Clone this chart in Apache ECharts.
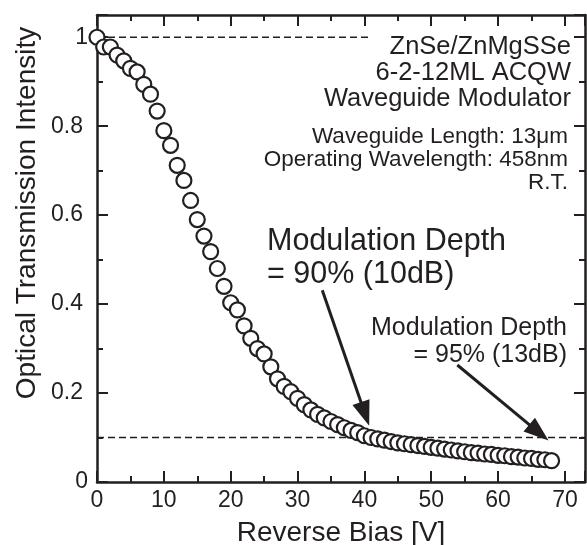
<!DOCTYPE html>
<html>
<head>
<meta charset="utf-8">
<script src="https://cdn.jsdelivr.net/npm/echarts@6/dist/echarts.min.js"></script>
<style>
html,body{margin:0;padding:0;background:#fff;}
#c{width:587px;height:545px;}
</style>
</head>
<body>
<div id="c"></div>
<script>
// Reverse bias [V]
const biasV = [0,1,2,3,4,5,6,7,8,9,10,11,12,13,14,15,16,17,18,19,20,21,22,23,24,25,26,27,28,29,30,31,32,33,34,35,36,37,38,39,40,41,42,43,44,45,46,47,48,49,50,51,52,53,54,55,56,57,58,59,60,61,62,63,64,65,66,67,68];
// Optical transmission intensity
const intensity = [1.000,0.978,0.978,0.960,0.947,0.930,0.922,0.894,0.872,0.834,0.790,0.757,0.712,0.678,0.633,0.590,0.553,0.518,0.480,0.440,0.403,0.387,0.351,0.323,0.300,0.288,0.259,0.232,0.215,0.203,0.188,0.174,0.162,0.152,0.144,0.136,0.129,0.122,0.116,0.111,0.104,0.100,0.097,0.094,0.091,0.088,0.086,0.084,0.082,0.080,0.078,0.076,0.074,0.072,0.070,0.068,0.066,0.065,0.063,0.062,0.060,0.059,0.057,0.056,0.054,0.053,0.051,0.050,0.048];
// Reference dashed levels: [y, xStart, xEnd]
const dashLevels = [[1.0, 0, 40.7], [0.1, 0, 73]];
// Arrows: [xStart, yStart, xEnd, yEnd]
const arrows = [[33.7, 0.431, 40.1, 0.153], [53.9, 0.263, 66.1, 0.111]];
const xTickLabels = ['0','10','20','30','40','50','60','70'];
const yTickLabels = ['0','0.2','0.4','0.6','0.8','1'];

const INK = '#231f20';
const FONT = 'Liberation Sans, Arial, sans-serif';
const X_MAX = 73, Y_MAX = 1.05;

const chart = echarts.init(document.getElementById('c'), null, {renderer: 'canvas'});

function xLab(v){ const s = String(Math.round(v)); return (Math.abs(v - Math.round(v)) < 1e-6 && xTickLabels.includes(s)) ? s : ''; }
function yLab(v){
  const r = Math.round(v*10)/10;
  if (Math.abs(v - r) > 1e-6) return '';
  const s = (r === 0) ? '0' : (r === 1 ? '1' : r.toFixed(1));
  if (!yTickLabels.includes(s)) return '';
  return (s.length > 1) ? '{d|' + s + '}' : '{i|' + s + '}';
}

const gridRect = {left: 97, right: 2, top: 15, bottom: 63, outerBoundsMode: 'none', containLabel: false};

function xAxisDef(grid, pos, interval, tickLen, showLabel, showLine, name) {
  return {
    type: 'value', gridIndex: grid, position: pos, min: 0, max: X_MAX, interval: interval,
    axisLine: {show: showLine, onZero: false, lineStyle: {color: INK, width: 2.5}},
    axisTick: {show: true, inside: true, length: tickLen, lineStyle: {color: INK, width: 2}},
    axisLabel: {show: showLabel, formatter: xLab, color: INK, fontSize: 23, fontFamily: FONT, margin: 7},
    splitLine: {show: false},
    name: name || '', nameLocation: 'middle', nameGap: 37,
    nameTextStyle: {color: INK, fontSize: 28, fontFamily: FONT}
  };
}
function yAxisDef(grid, pos, interval, tickLen, showLabel, showLine) {
  return {
    type: 'value', gridIndex: grid, position: pos, min: 0, max: Y_MAX, interval: interval,
    axisLine: {show: showLine, onZero: false, lineStyle: {color: INK, width: 2.5}},
    axisTick: {show: true, inside: true, length: tickLen, lineStyle: {color: INK, width: 2}},
    axisLabel: {show: showLabel, formatter: yLab, color: INK, fontSize: 23, fontFamily: FONT, margin: 9,
      rich: {
        d: {fontSize: 23, fontFamily: FONT, color: INK, padding: [0, 5, 0, 0]},
        i: {fontSize: 23, fontFamily: FONT, color: INK}
      }},
    splitLine: {show: false}
  };
}

const texts = [
  {t: 'Optical Transmission Intensity', x: 27, y: 213, s: 28, a: 'center', r: Math.PI / 2},
  {t: 'ZnSe/ZnMgSSe', x: 571, y: 47, s: 25.5, a: 'right'},
  {t: '6-2-12ML ACQW', x: 571, y: 73, s: 25.5, a: 'right'},
  {t: 'Waveguide Modulator', x: 571, y: 99, s: 25.5, a: 'right'},
  {t: 'Waveguide Length: 13μm', x: 568, y: 137, s: 22.5, a: 'right'},
  {t: 'Operating Wavelength: 458nm', x: 568, y: 160, s: 22.5, a: 'right'},
  {t: 'R.T.', x: 568, y: 183, s: 22.5, a: 'right'},
  {t: 'Modulation Depth', x: 267, y: 242, s: 30.5, a: 'left'},
  {t: '= 90% (10dB)', x: 267, y: 275, s: 30.5, a: 'left'},
  {t: 'Modulation Depth', x: 567, y: 328, s: 25, a: 'right'},
  {t: '= 95% (13dB)', x: 567, y: 355, s: 25, a: 'right'}
];

const option = {
  backgroundColor: '#fff',
  animation: false,
  grid: [Object.assign({}, gridRect), Object.assign({}, gridRect)],
  xAxis: [
    xAxisDef(0, 'bottom', 10, 11, true, true, 'Reverse Bias [V]'),
    xAxisDef(0, 'top', 10, 11, false, true),
    xAxisDef(1, 'bottom', 5, 6, false, false),
    xAxisDef(1, 'top', 5, 6, false, false)
  ],
  yAxis: [
    yAxisDef(0, 'left', 0.2, 11, true, true),
    yAxisDef(0, 'right', 0.2, 11, false, true),
    yAxisDef(1, 'left', 0.1, 6, false, false),
    yAxisDef(1, 'right', 0.1, 6, false, false)
  ],
  series: [
    ...dashLevels.map(d => ({
      type: 'line', xAxisIndex: 0, yAxisIndex: 0, z: 1,
      data: [[d[1], d[0]], [d[2], d[0]]],
      symbol: 'none', silent: true,
      lineStyle: {color: INK, width: 1.6, type: [7, 4]}
    })),
    {
      type: 'scatter', xAxisIndex: 0, yAxisIndex: 0, z: 3,
      data: biasV.map((v, i) => [v, intensity[i]]),
      symbol: 'circle', symbolSize: 15,
      itemStyle: {color: '#fff', borderColor: INK, borderWidth: 2.2, opacity: 1}
    },
    {
      type: 'line', xAxisIndex: 0, yAxisIndex: 0, z: 4, data: [], silent: true,
      markLine: {
        silent: true, animation: false,
        symbol: ['none', 'triangle'], symbolSize: [18, 25],
        label: {show: false},
        lineStyle: {color: INK, width: 3, type: 'solid'},
        data: arrows.map(a => [{coord: [a[0], a[1]]}, {coord: [a[2], a[3]]}])
      }
    }
  ],
  graphic: texts.map(o => ({
    type: 'text', x: o.x, y: o.y, z: 10, rotation: o.r || 0,
    style: {text: o.t, fill: INK, font: o.s + 'px ' + FONT, textAlign: o.a, textVerticalAlign: 'middle'}
  }))
};
chart.setOption(option);
</script>
</body>
</html>
